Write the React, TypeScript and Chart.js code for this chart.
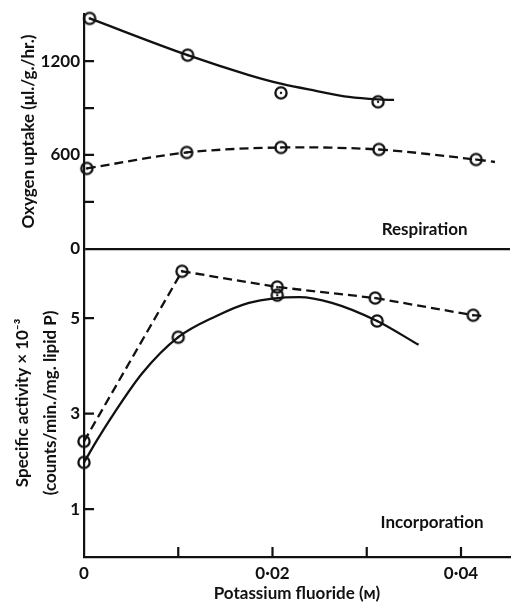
import { useEffect, useRef } from 'react';
import { Chart, registerables } from 'chart.js';
Chart.register(...registerables);

// x axis (Potassium fluoride, M)
const xTicks = [0, 0.01, 0.02, 0.03, 0.04];
const xTickLabels = ['0', '', '0·02', '', '0·04'];
// top panel (Oxygen uptake)
const topTicks = [0, 300, 600, 900, 1200];
const topTickLabels = ['0', '', '600', '', '1200'];
// bottom panel (Specific activity)
const botTicks = [1, 3, 5];
const botTickLabels = ['1', '3', '5'];

// Respiration – solid series
const respSolidX = [0.0006, 0.011, 0.0209, 0.0312];
const respSolidY = [1473, 1238, 997, 940];
const respSolidCurveX = [0.0006, 0.011, 0.0175, 0.021, 0.0246, 0.0281, 0.0312, 0.0329];
const respSolidCurveY = [1473, 1238, 1111, 1054, 1010, 971, 955, 952];
// Respiration – dashed series
const respDashX = [0.0003, 0.0109, 0.0209, 0.0313, 0.0416];
const respDashY = [514, 616, 648, 635, 571];
const respDashCurveX = [0.0003, 0.0109, 0.0209, 0.0313, 0.0416, 0.0436];
const respDashCurveY = [514, 616, 648, 635, 571, 555];

// Incorporation – solid series
const incSolidX = [0, 0.01, 0.0205, 0.0311];
const incSolidY = [1.98, 4.6, 5.48, 4.94];
const incSolidCurveX = [0, 0.0014, 0.0031, 0.0062, 0.01, 0.014, 0.0175, 0.0228, 0.0263, 0.0311, 0.0355];
const incSolidCurveY = [1.98, 2.45, 2.98, 3.85, 4.6, 5.04, 5.32, 5.44, 5.32, 4.94, 4.44];
// Incorporation – dashed series
const incDashX = [0, 0.0104, 0.0205, 0.0309, 0.0413];
const incDashY = [2.42, 5.98, 5.65, 5.42, 5.06];
const incDashCurveX = [0, 0.0104, 0.0205, 0.0309, 0.0413, 0.0425];
const incDashCurveY = [2.42, 5.98, 5.65, 5.42, 5.06, 5.04];

const zip = (xs: number[], ys: number[]) => xs.map((x, i) => ({ x, y: ys[i] }));

const FONT = 'Lato';

export default function App() {
  const ref = useRef<HTMLCanvasElement>(null);
  useEffect(() => {
    const canvas = ref.current!;
    const mk = document.createElement('canvas');
    mk.width = 16;
    mk.height = 16;
    const c = mk.getContext('2d')!;
    c.strokeStyle = '#111';
    c.fillStyle = '#111';
    c.lineWidth = 2.3;
    c.beginPath();
    c.arc(8, 8, 5.6, 0, Math.PI * 2);
    c.stroke();
    c.beginPath();
    c.arc(8, 8, 1.2, 0, Math.PI * 2);
    c.fill();

    const curve = (data: any[], yAxisID: string, dashed: boolean, tension: number, monotone = false) => ({
      data,
      yAxisID,
      showLine: true,
      borderColor: '#111',
      borderWidth: 2.3,
      borderDash: dashed ? [9, 5] : [],
      pointRadius: 0,
      tension,
      cubicInterpolationMode: monotone ? 'monotone' : 'default',
      clip: false,
    });
    const marks = (data: any[], yAxisID: string) => ({
      data,
      yAxisID,
      showLine: false,
      pointStyle: mk,
      pointRadius: 6,
      clip: false,
    });

    const decor = {
      id: 'decor',
      afterDraw(chart: any) {
        const { ctx } = chart;
        const { x, yTop, yBot } = chart.scales;
        ctx.save();
        ctx.strokeStyle = '#111';
        ctx.lineWidth = 2.2;
        ctx.beginPath();
        xTicks.forEach((v) => {
          if (v === 0) return;
          const px = x.getPixelForValue(v);
          ctx.moveTo(px, x.top);
          ctx.lineTo(px, x.top - 10);
        });
        topTicks.forEach((v) => {
          if (v === 0) return;
          const py = yTop.getPixelForValue(v);
          ctx.moveTo(yTop.right, py);
          ctx.lineTo(yTop.right + 10, py);
        });
        botTicks.forEach((v) => {
          const py = yBot.getPixelForValue(v);
          ctx.moveTo(yBot.right, py);
          ctx.lineTo(yBot.right + 10, py);
        });
        ctx.stroke();
        ctx.fillStyle = '#111';
        ctx.font = `bold 17px ${FONT}`;
        ctx.textAlign = 'right';
        ctx.textBaseline = 'middle';
        ctx.fillText('Respiration', x.getPixelForValue(0.0407), yTop.getPixelForValue(121));
        ctx.fillText('Incorporation', x.getPixelForValue(0.0424), yBot.getPixelForValue(0.73));
        ctx.restore();
      },
    };

    const tickFont = { family: FONT, size: 17, weight: 'bold' as const };
    const titleFont = { family: FONT, size: 17, weight: 'bold' as const, lineHeight: 1.65 };

    const chart = new Chart(canvas, {
      type: 'scatter',
      data: {
        datasets: [
          curve(zip(respSolidCurveX, respSolidCurveY), 'yTop', false, 0.4, true),
          curve(zip(respDashCurveX, respDashCurveY), 'yTop', true, 0.3),
          curve(zip(incSolidCurveX, incSolidCurveY), 'yBot', false, 0.4, true),
          curve(zip(incDashCurveX, incDashCurveY), 'yBot', true, 0),
          marks(zip(respSolidX, respSolidY), 'yTop'),
          marks(zip(respDashX, respDashY), 'yTop'),
          marks(zip(incSolidX, incSolidY), 'yBot'),
          marks(zip(incDashX, incDashY), 'yBot'),
        ] as any,
      },
      options: {
        responsive: false,
        animation: false,
        layout: { padding: { top: 11, right: 5, left: 0, bottom: 0 } },
        plugins: { legend: { display: false }, tooltip: { enabled: false } },
        scales: {
          yBot: {
            type: 'linear',
            position: 'left',
            stack: 'v',
            stackWeight: 310,
            min: 0,
            max: 6.45,
            afterBuildTicks: (s: any) => {
              s.ticks = botTicks.map((value) => ({ value }));
            },
            afterFit: (s: any) => {
              s.width = 84;
            },
            ticks: {
              color: '#111',
              font: tickFont,
              padding: 4,
              callback: (v: any) => botTickLabels[botTicks.indexOf(Number(v))] ?? '',
            },
            grid: { drawTicks: false, drawOnChartArea: false },
            border: { display: true, color: '#111', width: 2.2 },
            title: {
              display: true,
              text: ['Specific activity × 10⁻³', '(counts/min./mg. lipid P)'],
              color: '#111',
              font: titleFont,
              padding: { top: 8, bottom: 0 },
            },
          },
          yTop: {
            type: 'linear',
            position: 'left',
            stack: 'v',
            stackWeight: 236,
            min: 0,
            max: 1500,
            afterBuildTicks: (s: any) => {
              s.ticks = topTicks.map((value) => ({ value }));
            },
            afterFit: (s: any) => {
              s.width = 84;
            },
            ticks: {
              color: '#111',
              font: tickFont,
              padding: 4,
              callback: (v: any) => topTickLabels[topTicks.indexOf(Number(v))] ?? '',
            },
            grid: {
              drawTicks: false,
              lineWidth: 2.2,
              color: (ctx: any) => (ctx.tick && ctx.tick.value === 0 ? '#111' : 'rgba(0,0,0,0)'),
            },
            border: { display: true, color: '#111', width: 2.2 },
            title: {
              display: true,
              text: 'Oxygen uptake (μl./g./hr.)',
              color: '#111',
              font: titleFont,
              padding: { top: 14, bottom: 0 },
            },
          },
          x: {
            type: 'linear',
            min: 0,
            max: 0.0452,
            afterBuildTicks: (s: any) => {
              s.ticks = xTicks.map((value) => ({ value }));
            },
            afterFit: (s: any) => {
              s.height = 51;
            },
            ticks: {
              color: '#111',
              font: tickFont,
              padding: 6,
              maxRotation: 0,
              callback: (v: any) => xTickLabels[xTicks.indexOf(Number(v))] ?? '',
            },
            grid: { drawTicks: false, drawOnChartArea: false },
            border: { display: true, color: '#111', width: 2.2 },
            title: {
              display: true,
              text: 'Potassium fluoride (ᴍ)',
              color: '#111',
              font: { family: FONT, size: 17, weight: 'bold' },
              padding: { top: 0, bottom: 4 },
            },
          },
        } as any,
      },
      plugins: [decor],
    });
    return () => chart.destroy();
  }, []);

  return (
    <div style={{ position: 'absolute', left: 0, top: 0, width: 517, height: 608, background: '#fff' }}>
      <canvas ref={ref} width={517} height={608} style={{ display: 'block' }} />
    </div>
  );
}
